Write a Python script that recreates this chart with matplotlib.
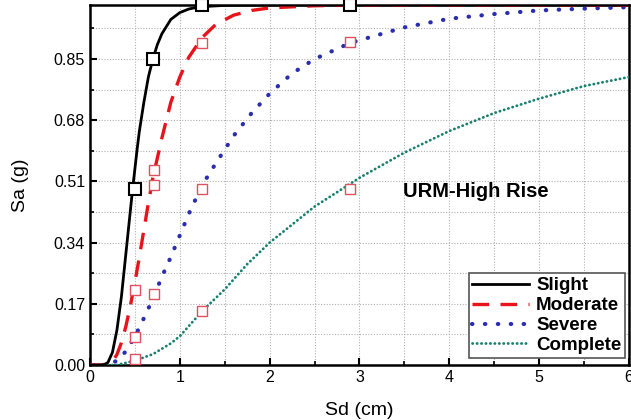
import numpy as np
import matplotlib.pyplot as plt
from matplotlib.ticker import MultipleLocator

plt.rcParams['font.family'] = ['Liberation Sans', 'DejaVu Sans']

# fragility curves (Sd in cm, Sa in g)
slight_x = [0.0, 0.15, 0.2, 0.25, 0.3, 0.35, 0.4, 0.425, 0.45, 0.475, 0.5, 0.525, 0.55, 0.6, 0.65,
            0.7, 0.75, 0.8, 0.9, 1.0, 1.1, 1.2, 1.35, 1.5, 2.0, 3.0, 4.0, 5.0, 6.0]
slight_y = [0.0, 0.0, 0.007, 0.035, 0.097, 0.19, 0.31, 0.37, 0.43, 0.49, 0.545, 0.60, 0.65, 0.73, 0.80,
            0.85, 0.89, 0.92, 0.96, 0.979, 0.989, 0.994, 0.997, 0.999, 1.0, 1.0, 1.0, 1.0, 1.0]

moderate_x = [0.0, 0.2, 0.25, 0.3, 0.35, 0.4, 0.45, 0.5, 0.55, 0.6, 0.65, 0.7, 0.8, 0.9,
              1.0, 1.1, 1.25, 1.4, 1.6, 1.8, 2.0, 2.5, 3.0, 4.0, 5.0, 6.0]
moderate_y = [0.0, 0.0, 0.01, 0.029, 0.062, 0.108, 0.165, 0.23, 0.30, 0.375, 0.45, 0.52, 0.63, 0.73,
              0.80, 0.855, 0.91, 0.946, 0.972, 0.985, 0.992, 0.998, 1.0, 1.0, 1.0, 1.0]

severe_x = [0.0, 0.2, 0.3, 0.4, 0.5, 0.6, 0.7, 0.8, 0.9, 1.0, 1.1, 1.25, 1.4, 1.6, 1.8,
            2.0, 2.25, 2.5, 2.9, 3.5, 4.0, 4.5, 5.0, 5.5, 6.0]
severe_y = [0.0, 0.0, 0.012, 0.038, 0.079, 0.13, 0.184, 0.245, 0.30, 0.36, 0.42, 0.50, 0.56, 0.637, 0.70,
            0.754, 0.81, 0.85, 0.895, 0.938, 0.962, 0.975, 0.985, 0.99, 0.994]

complete_x = [0.0, 0.3, 0.5, 0.7, 0.9, 1.0, 1.25, 1.5, 1.75, 2.0, 2.25, 2.5, 2.75, 3.0,
              3.5, 4.0, 4.5, 5.0, 5.5, 6.0]
complete_y = [0.0, 0.0, 0.012, 0.03, 0.06, 0.08, 0.15, 0.21, 0.28, 0.34, 0.39, 0.44, 0.48, 0.52,
              0.59, 0.65, 0.70, 0.74, 0.775, 0.80]

# square markers
black_mx = [0.5, 0.7, 1.25, 2.9]
black_my = [0.49, 0.85, 1.0, 1.0]
red_mx = [0.5, 0.5, 0.5, 0.71, 0.71, 0.71, 1.25, 1.25, 1.25, 2.9, 2.9]
red_my = [0.017, 0.077, 0.209, 0.198, 0.50, 0.541, 0.149, 0.49, 0.894, 0.49, 0.898]

fig = plt.figure(figsize=(6.31, 4.20), dpi=100)
ax = fig.add_axes([0.1426, 0.131, 0.8542, 0.857])

ax.plot(slight_x, slight_y, color='black', lw=2.0, label='Slight', zorder=5)
ax.plot(moderate_x, moderate_y, color='#e8141c', lw=2.4, dashes=(5, 3.4), label='Moderate', zorder=4)
ax.plot(severe_x, severe_y, color='#2a2db0', lw=3.0, dashes=(0.1, 3.0), dash_capstyle='round',
        label='Severe', zorder=3)
ax.plot(complete_x, complete_y, color='#17806e', lw=2.0, dashes=(0.1, 1.5), dash_capstyle='round',
        label='Complete', zorder=3)

ax.plot(red_mx, red_my, 's', ms=7, mfc='white', mec='#e0505e', mew=1.0, zorder=6)
ax.plot(black_mx, black_my, 's', ms=8, mfc='white', mec='black', mew=1.5, zorder=7, clip_on=False)

ax.set_xlim(0, 6)
ax.set_ylim(0, 1.0)
ax.set_yticks([0.0, 0.17, 0.34, 0.51, 0.68, 0.85])
ax.set_yticklabels(['0.00', '0.17', '0.34', '0.51', '0.68', '0.85'])
ax.xaxis.set_major_locator(MultipleLocator(1))
ax.xaxis.set_minor_locator(MultipleLocator(0.5))
ax.yaxis.set_minor_locator(MultipleLocator(0.085))
ax.tick_params(which='both', direction='in', labelsize=11.5)
ax.tick_params(which='major', length=5, width=1.5)
ax.tick_params(which='minor', length=3, width=1.2)
ax.grid(which='both', color='#b0b0b0', ls=(0, (1, 1.5)), lw=0.8)
for s in ax.spines.values():
    s.set_linewidth(1.8)

ax.set_xlabel('Sd (cm)', fontsize=14, labelpad=12)
ax.set_ylabel('Sa (g)', fontsize=14, labelpad=18)
ax.text(3.49, 0.483, 'URM-High Rise', fontsize=14.5, fontweight='bold', va='center')

leg = ax.legend(loc='lower right', bbox_to_anchor=(0.993, 0.02), fancybox=False, edgecolor='#555555',
                framealpha=1, prop={'weight': 'bold', 'size': 13.5}, handlelength=3.0,
                borderpad=0.2, labelspacing=0.15, handletextpad=0.4, borderaxespad=0)
leg.get_frame().set_linewidth(1.2)

fig.savefig('out.png', dpi=100)
